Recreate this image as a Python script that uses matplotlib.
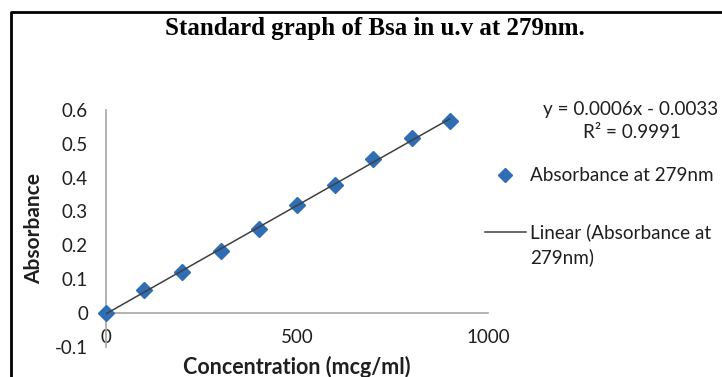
import matplotlib.pyplot as plt
import numpy as np
from matplotlib.lines import Line2D

# concentration (mcg/ml) and absorbance
conc = [0, 100, 200, 300, 400, 500, 600, 700, 800, 900]
absorb = [0.0, 0.067, 0.121, 0.183, 0.247, 0.318, 0.378, 0.455, 0.516, 0.568]
xticks = [0, 500, 1000]
yticks = [-0.1, 0, 0.1, 0.2, 0.3, 0.4, 0.5, 0.6]
ylabels = ['-0.1', '0', '0.1', '0.2', '0.3', '0.4', '0.5', '0.6']

blue = '#2f6db5'
axcol = '#a6a6a6'
txt = '#1f1f1f'
sans = ['Lato', 'DejaVu Sans']

fig = plt.figure(figsize=(7.22, 3.77), dpi=100)
ax = fig.add_axes([106/722, 1-346.5/377, 382/722, 236.5/377])

ax.plot(conc, absorb, 'D', color=blue, markersize=8.5, zorder=3, clip_on=False)
k, b = np.polyfit(conc, absorb, 1)
xx = np.array([conc[0], conc[-1]])
ax.plot(xx, k*xx + b, color='#404040', lw=1.1, zorder=4)

ax.set_xlim(0, 1000)
ax.set_ylim(-0.1, 0.6)
ax.set_xticks(xticks)
ax.set_xticklabels([str(v) for v in xticks])
ax.set_yticks(yticks)
ax.set_yticklabels(ylabels)
for s in ['top', 'right']:
    ax.spines[s].set_visible(False)
ax.spines['bottom'].set_position(('data', 0))
for s in ['left', 'bottom']:
    ax.spines[s].set_color(axcol)
    ax.spines[s].set_linewidth(1.2)
ax.tick_params(axis='x', length=0, pad=12, labelsize=13.5, labelcolor=txt)
ax.tick_params(axis='y', length=0, pad=13, labelsize=13.5, labelcolor=txt)
for t in ax.get_xticklabels() + ax.get_yticklabels():
    t.set_family(sans)

fig.text(34/722, 1-228/377, 'Absorbance', rotation=90, ha='center', va='center',
         fontsize=15, fontweight='bold', family=sans, color=txt)
fig.text(297/722, 1-367/377, 'Concentration (mcg/ml)', ha='center', va='center',
         fontsize=15.5, fontweight='bold', family=sans, color=txt)
fig.text(375/722, 1-28/377, 'Standard graph of Bsa in u.v at 279nm.', ha='center',
         va='center', fontsize=18, fontweight='bold', family='Liberation Serif')

# trendline equation and legend
fs = 13.6
fig.text(718/722, 1-110/377, 'y = 0.0006x - 0.0033', ha='right', va='center',
         fontsize=fs, family=sans, color=txt)
fig.text(632/722, 1-132/377, 'R² = 0.9991', ha='center', va='center',
         fontsize=fs, family=sans, color=txt)
fig.add_artist(Line2D([505/722], [1-175/377], marker='D', color=blue, markersize=7,
                      transform=fig.transFigure))
fig.text(530/722, 1-175/377, 'Absorbance at 279nm', ha='left', va='center',
         fontsize=fs, family=sans, color=txt)
fig.add_artist(Line2D([485/722, 526/722], [1-232/377, 1-232/377], color='#404040',
                      lw=1.1, transform=fig.transFigure))
fig.text(530/722, 1-232/377, 'Linear (Absorbance at', ha='left', va='center',
         fontsize=fs, family=sans, color=txt)
fig.text(530/722, 1-257/377, '279nm)', ha='left', va='center',
         fontsize=fs, family=sans, color=txt)

# outer frame (cut off at right and bottom)
fig.add_artist(Line2D([11/722, 11/722, 1.0], [0, 1-12/377, 1-12/377], color='black',
                      lw=2, transform=fig.transFigure))

fig.savefig('out.png', dpi=100)
